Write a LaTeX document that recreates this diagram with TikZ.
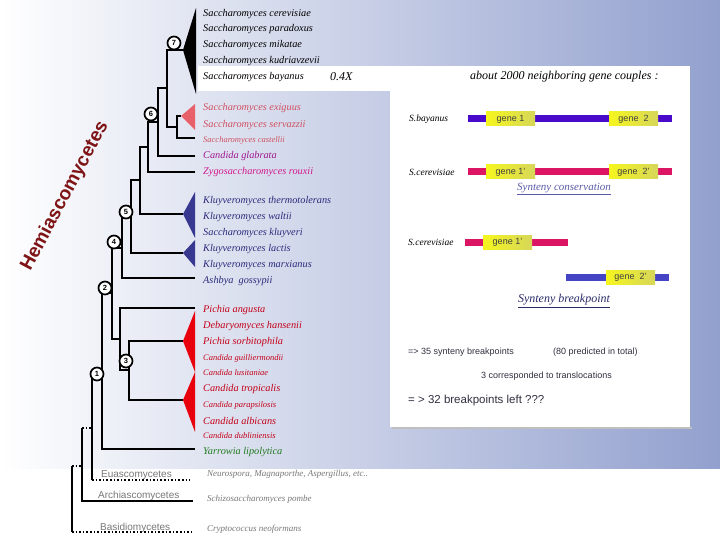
\documentclass[tikz,border=0pt]{standalone}
\usepackage{fontspec}
\setmainfont{Liberation Serif}
\setsansfont{Liberation Sans}
\definecolor{bgblue}{RGB}{146,160,206}
\definecolor{pinktxt}{RGB}{208,80,96}
\definecolor{pinktri}{RGB}{232,96,106}
\definecolor{purptxt}{RGB}{160,24,144}
\definecolor{magtxt}{RGB}{210,24,140}
\definecolor{navy}{RGB}{42,42,122}
\definecolor{navytri}{RGB}{56,56,144}
\definecolor{redtxt}{RGB}{196,0,24}
\definecolor{redtri}{RGB}{232,0,12}
\definecolor{greentxt}{RGB}{32,122,32}
\definecolor{graytxt}{RGB}{120,120,120}
\definecolor{hemired}{RGB}{126,20,22}
\definecolor{barpurple}{RGB}{74,10,203}
\definecolor{barmag}{RGB}{220,20,100}
\definecolor{barblue}{RGB}{68,68,196}
\definecolor{geneL}{RGB}{246,246,30}
\definecolor{geneR}{RGB}{214,214,90}
\definecolor{panteltxt}{RGB}{48,48,64}
\definecolor{consblue}{RGB}{90,90,170}
\definecolor{breakblue}{RGB}{42,42,106}
\begin{document}
\begin{tikzpicture}[x=1pt,y=-1pt,
  tree/.style={line width=2.6pt},
  dotline/.style={line width=1.6pt, dotted},
  taxon/.style={anchor=west, inner sep=0pt, font=\fontsize{10.3}{12}\selectfont\itshape},
  smalltaxon/.style={anchor=west, inner sep=0pt, font=\fontsize{8.5}{10}\selectfont\itshape},
  outgrp/.style={anchor=west, inner sep=0pt, font=\fontsize{9}{11}\selectfont\itshape, text=graytxt},
  grpname/.style={anchor=west, inner sep=0pt, font=\sffamily\fontsize{10}{12}\selectfont, text=graytxt},
  circnode/.style={circle, draw=black, fill=white, line width=1.7pt, inner sep=0pt, minimum size=13pt, font=\sffamily\bfseries\fontsize{7.5}{7.5}\selectfont},
  genebox/.style={rectangle, left color=geneL, right color=geneR, minimum width=49pt, minimum height=14pt, inner sep=0pt, font=\sffamily\fontsize{9}{10}\selectfont, text=black!75},
  chromo/.style={line width=7pt},
  paneltext/.style={anchor=west, inner sep=0pt, font=\sffamily\fontsize{9}{11}\selectfont, text=panteltxt}
]
\useasboundingbox (0,0) rectangle (720,540);
\fill[white] (0,0) rectangle (720,540);
\shade[left color=white, right color=bgblue] (0,0) rectangle (720,468);
% white panel
\fill[white] (198,66) rectangle (690,91);
\fill[black!25] (392,427) rectangle (692,429);
\fill[white] (390,66) rectangle (690,427);

% ---------- tree coordinates ----------
\coordinate (tri7) at (183,50);
\coordinate (tPink) at (181,116);
\coordinate (lCast) at (195,138);
\coordinate (lGlab) at (195,156);
\coordinate (lRoux) at (195,172);
\coordinate (tB1) at (183,214);
\coordinate (tB2) at (183,253);
\coordinate (lAsh) at (195,278);
\coordinate (lPang) at (195,308);
\coordinate (tR1) at (183,341);
\coordinate (tR2) at (183,400);
\coordinate (lYar) at (195,449);
\coordinate (lEu) at (190,480);
\coordinate (lAr) at (193,501);
\coordinate (lBa) at (192,532);

\coordinate (nA) at (177,127);
\coordinate (n7) at (167,88);
\coordinate (nB) at (158,122);
\coordinate (n6) at (148,147);
\coordinate (nC) at (140,180);
\coordinate (n5) at (131,217);
\coordinate (nD) at (122,248);
\coordinate (n3) at (129,370);
\coordinate (nE) at (120,339);
\coordinate (n2) at (112,293);
\coordinate (n1) at (102,371);
\coordinate (nF) at (92,428);
\coordinate (nG) at (82,466);
\coordinate (nH) at (72,500);

% ---------- tree branches ----------
\draw[tree] (nA) |- (tPink);
\draw[tree] (nA) |- (lCast);
\draw[tree] (n7) |- (tri7);
\draw[tree] (n7) |- (nA);
\draw[tree] (nB) |- (n7);
\draw[tree] (nB) |- (lGlab);
\draw[tree] (n6) |- (nB);
\draw[tree] (n6) |- (lRoux);
\draw[tree] (nC) |- (n6);
\draw[tree] (nC) |- (tB1);
\draw[tree] (n5) |- (nC);
\draw[tree] (n5) |- (tB2);
\draw[tree] (nD) |- (n5);
\draw[tree] (nD) |- (lAsh);
\draw[tree] (n3) |- (tR1);
\draw[tree] (n3) |- (tR2);
\draw[tree] (nE) |- (lPang);
\draw[tree] (nE) |- (n3);
\draw[tree] (n2) |- (nD);
\draw[tree] (n2) |- (nE);
\draw[tree] (n1) |- (n2);
\draw[tree] (n1) |- (lYar);
\draw[tree] (nF) |- (n1);
\draw[tree] (nF) -- (nF |- lEu);
\draw[dotline] (nF |- lEu) -- (lEu);
\draw[tree] (nG) -- (nG |- nF);
\draw[dotline] (nG |- nF) -- (nF);
\draw[tree] (nG) |- (lAr);
\draw[tree] (nH |- nG) -- (nH |- lBa);
\draw[dotline] (nH |- nG) -- (nG);
\draw[dotline] (nH |- lBa) -- (lBa);

% ---------- collapsed clades ----------
\fill[black] (tri7) -- (196,8) -- (196,94) -- cycle;
\fill[pinktri] (tPink) -- (195,104) -- (195,130) -- cycle;
\fill[navytri] (tB1) -- (195,192) -- (195,238) -- cycle;
\fill[navytri] (tB2) -- (195,240) -- (195,267) -- cycle;
\fill[redtri] (tR1) -- (195,311) -- (195,372) -- cycle;
\fill[redtri] (tR2) -- (195,372) -- (195,432) -- cycle;

% ---------- numbered nodes ----------
\node[circnode] (c7) at (174,43) {7};
\node[circnode] (c6) at (151,114) {6};
\node[circnode] (c5) at (126,212) {5};
\node[circnode] (c4) at (114,242) {4};
\node[circnode] (c2) at (105,288) {2};
\node[circnode] (c3) at (126,361) {3};
\node[circnode] (c1) at (97,374) {1};

% ---------- taxa ----------
\node[taxon] (s1) at (203,14) {Saccharomyces cerevisiae};
\node[taxon] (s2) at (203,29) {Saccharomyces paradoxus};
\node[taxon] (s3) at (203,45) {Saccharomyces mikatae};
\node[taxon] (s4) at (203,61) {Saccharomyces kudriavzevii};
\node[taxon] (s5) at (203,77) {Saccharomyces bayanus};
\node[anchor=west, inner sep=0pt, font=\fontsize{12}{14}\selectfont\itshape] (cov) at (330,77) {0.4X};
\node[taxon, text=pinktxt] (s6) at (203,108) {Saccharomyces exiguus};
\node[taxon, text=pinktxt] (s7) at (203,125) {Saccharomyces servazzii};
\node[smalltaxon, text=pinktxt] (s8) at (203,140) {Saccharomyces castellii};
\node[taxon, text=purptxt] (s9) at (203,156) {Candida glabrata};
\node[taxon, text=magtxt] (s10) at (203,172) {Zygosaccharomyces rouxii};
\node[taxon, text=navy] (k1) at (203,201) {Kluyveromyces thermotolerans};
\node[taxon, text=navy] (k2) at (203,217) {Kluyveromyces waltii};
\node[taxon, text=navy] (k3) at (203,233) {Saccharomyces kluyveri};
\node[taxon, text=navy] (k4) at (203,249) {Kluyveromyces lactis};
\node[taxon, text=navy] (k5) at (203,265) {Kluyveromyces marxianus};
\node[taxon, text=navy] (k6) at (203,281) {Ashbya\ \ gossypii};
\node[taxon, text=redtxt] (p1) at (203,310) {Pichia angusta};
\node[taxon, text=redtxt] (p2) at (203,326) {Debaryomyces hansenii};
\node[taxon, text=redtxt] (p3) at (203,342) {Pichia sorbitophila};
\node[smalltaxon, text=redtxt] (p4) at (203,358) {Candida guilliermondii};
\node[smalltaxon, text=redtxt] (p5) at (203,373) {Candida lusitaniae};
\node[taxon, text=redtxt] (p6) at (203,389) {Candida tropicalis};
\node[smalltaxon, text=redtxt] (p7) at (203,405) {Candida parapsilosis};
\node[taxon, text=redtxt] (p8) at (203,421) {Candida albicans};
\node[smalltaxon, text=redtxt] (p9) at (203,436) {Candida dubliniensis};
\node[taxon, text=greentxt] (y1) at (203,452) {Yarrowia lipolytica};

\node[grpname] (eu) at (101,475) {Euascomycetes};
\node[grpname] (ar) at (98,496) {Archiascomycetes};
\node[grpname] (ba) at (100,528) {Basidiomycetes};
\node[outgrp] (eux) at (207,474) {Neurospora, Magnaporthe, Aspergillus, etc..};
\node[outgrp] (arx) at (207,499) {Schizosaccharomyces pombe};
\node[outgrp] (bax) at (207,529) {Cryptococcus neoformans};

\node[rotate=62, inner sep=0pt, font=\sffamily\bfseries\fontsize{19}{20}\selectfont, text=hemired] (hemi) at (65,196) {Hemiascomycetes};

% ---------- synteny panel ----------
\node[anchor=west, inner sep=0pt, font=\fontsize{12}{14}\selectfont\itshape] (title) at (470,77) {about 2000 neighboring gene couples :};

\node[taxon, font=\fontsize{9.5}{11}\selectfont\itshape] (sb) at (409,119) {S.bayanus};
\coordinate (b1s) at (468,119);
\coordinate (b1e) at (672,119);
\draw[chromo, barpurple] (b1s) -- (b1e);
\node[genebox] (g1) at (510.5,119) {gene 1};
\node[genebox] (g2) at (633.5,119) {gene\ \ 2};

\node[taxon, font=\fontsize{9.5}{11}\selectfont\itshape] (sc1) at (409,172) {S.cerevisiae};
\coordinate (b2s) at (468,172);
\coordinate (b2e) at (672,172);
\draw[chromo, barmag] (b2s) -- (b2e);
\node[genebox] (g1p) at (510.5,172) {gene 1'};
\node[genebox] (g2p) at (633.5,172) {gene\ \ 2'};
\node[inner sep=0pt, font=\fontsize{11}{13}\selectfont\itshape, text=consblue] (cons) at (564,189) {\underline{Synteny conservation}};

\node[taxon, font=\fontsize{9.5}{11}\selectfont\itshape] (sc2) at (408,242) {S.cerevisiae};
\coordinate (b3s) at (465,242);
\coordinate (b3e) at (568,242);
\draw[chromo, barmag] (b3s) -- (b3e);
\node[genebox] (g1q) at (507.5,242) {gene 1'};
\coordinate (b4s) at (566,277);
\coordinate (b4e) at (669,277);
\draw[chromo, barblue] (b4s) -- (b4e);
\node[genebox] (g2q) at (630.5,277) {gene\ \ 2'};
\node[inner sep=0pt, font=\fontsize{12}{14}\selectfont\itshape, text=breakblue] (brk) at (564,301) {\underline{Synteny breakpoint}};

\node[paneltext] (t1) at (408,352) {=> 35 synteny breakpoints};
\node[paneltext] (t2) at (553,352) {(80 predicted in total)};
\node[paneltext] (t3) at (481,376) {3 corresponded to translocations};
\node[paneltext, font=\sffamily\fontsize{11.5}{13}\selectfont] (t4) at (408,401) {= > 32 breakpoints left ???};
\end{tikzpicture}
\end{document}
